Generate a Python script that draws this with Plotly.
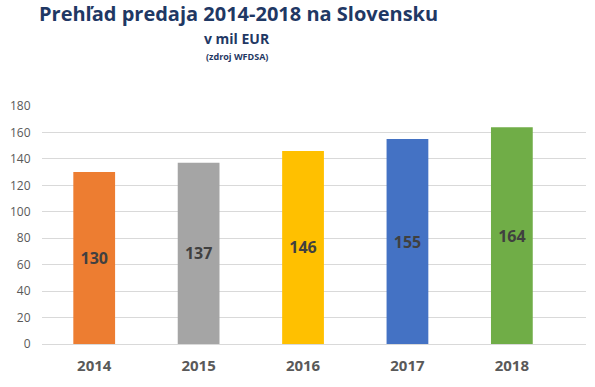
import plotly.graph_objects as go

years = ["2014", "2015", "2016", "2017", "2018"]
sales = [130, 137, 146, 155, 164]
colors = ["#ED7D31", "#A5A5A5", "#FFC000", "#4472C4", "#70AD47"]
yticks = [0, 20, 40, 60, 80, 100, 120, 140, 160, 180]

fig = go.Figure(go.Bar(
    x=years, y=sales, marker=dict(color=colors, line=dict(width=0)),
    width=0.4, text=[str(v) for v in sales], textposition="inside",
    insidetextanchor="middle",
    textfont=dict(family="Open Sans", size=16, color="#404040", weight="bold"),
))

L, R, T, B = 42, 9, 106, 43
fig.update_layout(
    width=595, height=387,
    margin=dict(l=L, r=R, t=T, b=B),
    paper_bgcolor="white", plot_bgcolor="white",
    showlegend=False,
    xaxis=dict(range=[-0.5, 4.71],
               tickfont=dict(family="Open Sans", size=15, color="#595959", weight="bold"),
               showline=True, linecolor="#D9D9D9", linewidth=1, ticks="", ticklen=0,
               ticklabelstandoff=8),
    yaxis=dict(range=[0, 180], tickvals=yticks, showgrid=True, gridcolor="#D9D9D9",
               zeroline=False, ticks="outside", ticklen=8, tickcolor="white",
               tickfont=dict(family="Open Sans", size=12, color="#595959")),
)

# title block positioned in pixel terms, converted to paper coords
pw = 595 - L - R
ph = 387 - T - B
titles = [
    ("<b>Prehľad predaja 2014-2018 na Slovensku</b>", 238, 13, 20),
    ("<b>v mil EUR</b>", 237, 39, 14),
    ("<b>(zdroj WFDSA)</b>", 237, 56, 9),
]
for text, px, py, fs in titles:
    fig.add_annotation(text=text, xref="paper", yref="paper",
                       x=(px - L) / pw, y=(387 - B - py) / ph,
                       xanchor="center", yanchor="middle", showarrow=False,
                       font=dict(family="Open Sans", size=fs, color="#1F3864"))

fig.write_html("out.html", config={"displayModeBar": False},
               post_script="document.body.style.margin='0';")
